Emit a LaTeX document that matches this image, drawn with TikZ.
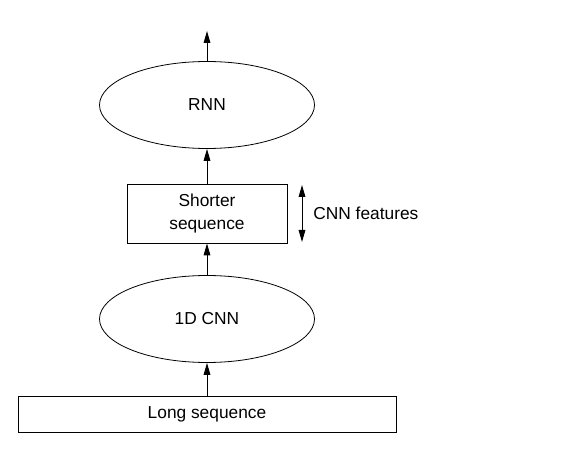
\documentclass[tikz,border=0pt]{standalone}
\usepackage{fontspec}
\setmainfont{Liberation Sans}
\usetikzlibrary{arrows.meta,shapes.geometric}
\begin{document}
\begin{tikzpicture}[x=0.75pt,y=-0.75pt,
  every node/.style={font=\fontsize{13}{17}\selectfont, line width=0.6pt, inner sep=0pt},
  oval/.style={draw, ellipse, minimum width=215*0.75pt, minimum height=87*0.75pt},
  box/.style={draw, rectangle, align=center},
  arr/.style={line width=0.75pt, -{Triangle[length=9pt,width=5pt]}},
  darr/.style={line width=0.75pt, {Triangle[length=9pt,width=5pt]}-{Triangle[length=9pt,width=5pt]}}]
\useasboundingbox (0,0) rectangle (578,452);
\node[oval] (rnn) at (207,105) {RNN};
\node[box, minimum width=160*0.75pt, minimum height=59*0.75pt] (short) at (207,213.5) {Shorter\\sequence};
\node[oval] (cnn) at (207,319) {1D CNN};
\node[box, minimum width=378*0.75pt, minimum height=36*0.75pt] (long) at (207,414) {Long sequence};
\coordinate (out) at (207,31);
\coordinate (ft) at (302,185);
\coordinate (fb) at (302,242);
\node[anchor=west] (feat) at (313,213) {CNN features};
\draw[arr] (rnn.north) -- (out);
\draw[arr] (short.north) -- (rnn.south);
\draw[arr] (cnn.north) -- (short.south);
\draw[arr] (long.north) -- (cnn.south);
\draw[darr] (fb) -- (ft);
\end{tikzpicture}
\end{document}
